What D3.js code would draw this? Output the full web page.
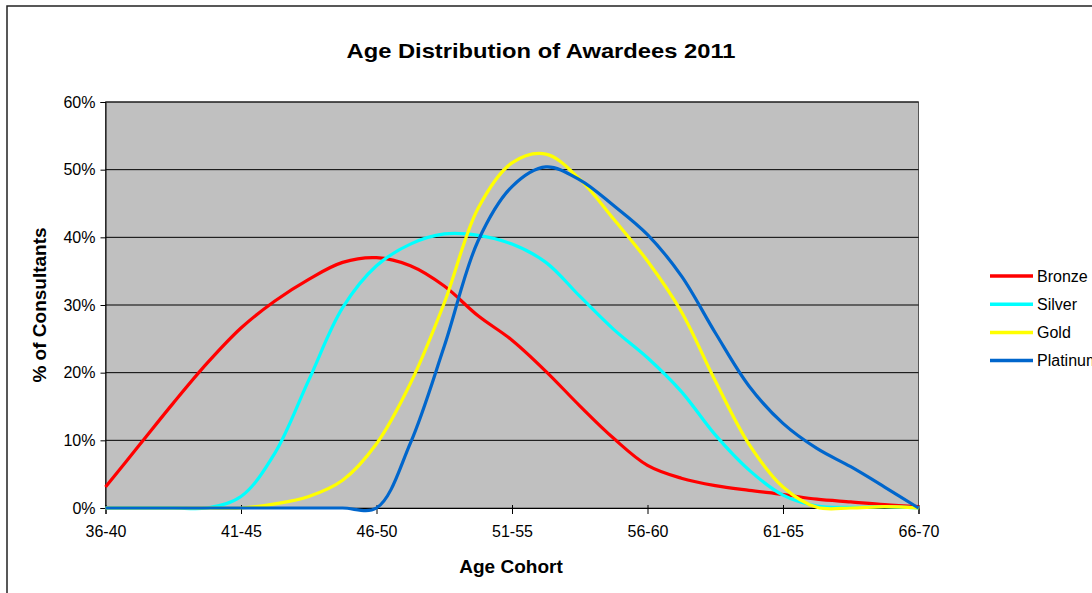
<!DOCTYPE html>
<html>
<head>
<meta charset="utf-8">
<script src="https://cdn.jsdelivr.net/npm/d3@7"></script>
<style>
  body { margin: 0; background: #fff; }
  text { font-family: Arial, "Liberation Sans", sans-serif; }
</style>
</head>
<body>
<div id="chart"></div>
<script>
// category labels on the x axis
var cohorts = ["36-40", "41-45", "46-50", "51-55", "56-60", "61-65", "66-70"];
// sample positions (in cohort units) at which values were read
var steps = [0, 0.25, 0.5, 0.75, 1, 1.25, 1.5, 1.75, 2, 2.25, 2.5, 2.75, 3,
             3.25, 3.5, 3.75, 4, 4.25, 4.5, 4.75, 5, 5.25, 5.5, 5.75, 6];

var bronze   = [3.1, 9.3, 15.5, 21.4, 26.6, 30.6, 33.8, 36.3, 37.0, 35.8, 32.8, 28.4, 24.8,
                20.2, 15.1, 10.3, 6.3, 4.4, 3.3, 2.6, 2.0, 1.3, 0.9, 0.5, 0.2];
var silver   = [0, 0, 0, 0, 1.7, 8.1, 18.9, 29.6, 35.8, 39.0, 40.5, 40.3, 39.0,
                36.3, 31.3, 26.4, 22.2, 17.2, 10.8, 5.6, 1.9, 0.3, 0.1, 0.2, 0];
var gold     = [0, 0, 0, 0, 0, 0.6, 1.7, 4.1, 9.5, 18.4, 30.3, 44.3, 51.0,
                52.3, 48.6, 42.7, 36.5, 29.0, 18.8, 9.4, 3.1, 0.1, 0, 0.2, 0];
var platinum = [0, 0, 0, 0, 0, 0, 0, 0, 0, 9.6, 23.9, 39.5, 47.5,
                50.4, 48.5, 44.7, 40.4, 34.3, 25.9, 18.0, 12.5, 8.8, 6.1, 3.1, 0];

var seriesNames = ["Bronze", "Silver", "Gold", "Platinum"];
var seriesColors = ["#ff0000", "#00ffff", "#ffff00", "#0066cc"];
var yTicks = [0, 10, 20, 30, 40, 50, 60];

var W = 1092, H = 593;
var pLeft = 105.5, pRight = 918.5, pTop = 102, pBottom = 508;

var svg = d3.select("#chart").append("svg")
  .attr("width", W).attr("height", H);

// outer chart frame
svg.append("rect")
  .attr("x", 7).attr("y", 6)
  .attr("width", W + 20).attr("height", H + 20)
  .attr("fill", "#fff").attr("stroke", "#222").attr("stroke-width", 1.5);

var x = d3.scaleLinear().domain([0, cohorts.length - 1]).range([pLeft, pRight]);
var y = d3.scaleLinear().domain([0, 60]).range([pBottom, pTop]);

// plot area
svg.append("rect")
  .attr("x", pLeft).attr("y", pTop)
  .attr("width", pRight - pLeft).attr("height", pBottom - pTop)
  .attr("fill", "#c0c0c0").attr("stroke", "#555").attr("stroke-width", 1);

// gridlines
svg.append("g").selectAll("line")
  .data(yTicks.slice(1))
  .enter().append("line")
  .attr("x1", pLeft).attr("x2", pRight)
  .attr("y1", function(d) { return y(d); })
  .attr("y2", function(d) { return y(d); })
  .attr("stroke", "#000").attr("stroke-width", 1);

// y axis
var yAxis = d3.axisLeft(y)
  .tickValues(yTicks)
  .tickSize(5)
  .tickPadding(5)
  .tickFormat(function(d) { return d + "%"; });

var gy = svg.append("g")
  .attr("transform", "translate(" + pLeft + ",0)")
  .call(yAxis);
gy.select(".domain").attr("stroke", "#000");
gy.selectAll("line").attr("stroke", "#000");
gy.selectAll("text").attr("font-size", 16).attr("fill", "#000")
  .attr("font-family", "Arial, 'Liberation Sans', sans-serif");

// x axis
var xAxis = d3.axisBottom(x)
  .tickValues(d3.range(cohorts.length))
  .tickSize(6)
  .tickPadding(12)
  .tickFormat(function(d) { return cohorts[d]; });

var gx = svg.append("g")
  .attr("transform", "translate(0," + pBottom + ")")
  .call(xAxis);
gx.select(".domain").attr("stroke", "#000");
gx.selectAll("line").attr("stroke", "#000").attr("y1", -3);
gx.selectAll("text").attr("font-size", 16).attr("fill", "#000")
  .attr("font-family", "Arial, 'Liberation Sans', sans-serif");

// lines (smoothed like the spreadsheet's curves)
var allSeries = [bronze, silver, gold, platinum];
var line = d3.line()
  .x(function(d, i) { return x(steps[i]); })
  .y(function(d) { return y(d); })
  .curve(d3.curveCatmullRom.alpha(0.5));

svg.append("g").selectAll("path")
  .data(allSeries)
  .enter().append("path")
  .attr("d", line)
  .attr("fill", "none")
  .attr("stroke", function(d, i) { return seriesColors[i]; })
  .attr("stroke-width", 3.2)
  .attr("stroke-linejoin", "round");

// title and axis titles
svg.append("text")
  .attr("x", 541).attr("y", 58)
  .attr("text-anchor", "middle")
  .attr("font-size", 21).attr("font-weight", "bold")
  .attr("textLength", 389).attr("lengthAdjust", "spacingAndGlyphs")
  .text("Age Distribution of Awardees 2011");

svg.append("text")
  .attr("x", 511).attr("y", 573)
  .attr("text-anchor", "middle")
  .attr("font-size", 19).attr("font-weight", "bold")
  .text("Age Cohort");

svg.append("text")
  .attr("transform", "translate(46," + ((pTop + pBottom) / 2) + ") rotate(-90)")
  .attr("text-anchor", "middle")
  .attr("font-size", 19).attr("font-weight", "bold")
  .text("% of Consultants");

// legend
var legend = svg.append("g").selectAll("g")
  .data(seriesNames)
  .enter().append("g")
  .attr("transform", function(d, i) { return "translate(990," + (276 + i * 28.2) + ")"; });

legend.append("line")
  .attr("x1", 0).attr("x2", 43)
  .attr("stroke", function(d, i) { return seriesColors[i]; })
  .attr("stroke-width", 3.5);

legend.append("text")
  .attr("x", 47).attr("y", 5.5)
  .attr("font-size", 16)
  .text(function(d) { return d; });
</script>
</body>
</html>
